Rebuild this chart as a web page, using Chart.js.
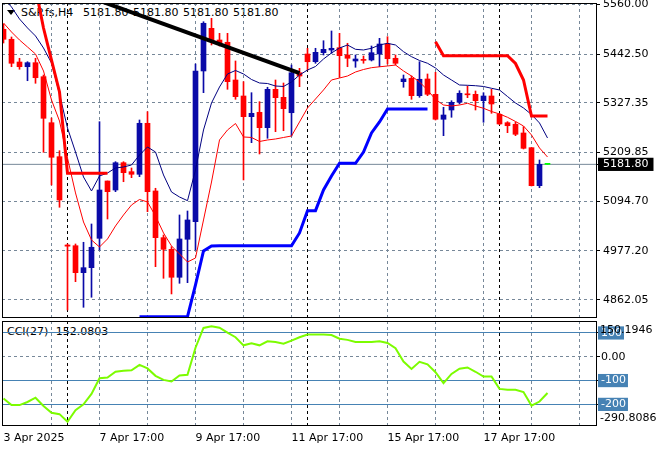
<!DOCTYPE html>
<html>
<head>
<meta charset="utf-8">
<script src="https://cdn.jsdelivr.net/npm/chart.js@4.4.1/dist/chart.umd.min.js"></script>
<style>
  body { margin: 0; background: #fff; }
  #wrap { position: relative; width: 660px; height: 450px; font-family: "DejaVu Sans"; font-size: 11px; color: #000; }
  canvas { position: absolute; left: 0; z-index: 1; }
  #main { top: 0; }
  #cci { top: 320px; }
  .t { position: absolute; white-space: pre; line-height: 13px; z-index: 0; }
  .front { z-index: 2; }
  #tri { position: absolute; left: 7px; top: 10px; width: 0; height: 0; border-left: 4px solid transparent; border-right: 4px solid transparent; border-top: 5px solid #000; }
</style>
</head>
<body>
<div id="wrap">
  <div id="tri"></div>
  <div class="t" style="left:21px;top:6px;">S&amp;P.fs,H4</div>
  <div class="t" style="left:83px;top:6px;word-spacing:1px;">5181.80 5181.80 5181.80 5181.80</div>
  <div class="t" style="left:7px;top:325px;">CCI(27) -152.0803</div>
  <canvas id="main" width="660" height="320"></canvas>
  <canvas id="cci" width="660" height="130"></canvas>
  <div class="t front" style="left:600px;top:323px;">150.1946</div>
  <div class="t front" style="left:600px;top:411px;">-290.8086</div>
</div>
<script>
// H4 bars, index 0 = first visible bar
var openP = [5500.9,5477.3,5423.6,5412.5,5422.0,5388.9,5280.2,5199.9,4991.3,4989.6,
  4925.9,4937.7,5007.1,5142.5,5121.2,5185.7,5164.5,5158.3,5278.8,5118.9,
  5008.6,4981.1,4915.0,5004.8,5046.4,5402.4,5503.2,5475.6,5470.2,5381.1,
  5343.3,5294.4,5304.8,5268.4,5359.1,5340.2,5303.8,5398.3,5442.5,5424.3,
  5445.6,5451.9,5457.4,5440.2,5426.0,5428.8,5428.3,5442.5,5466.1,5432.4,
  5377.1,5385.1,5344.0,5383.5,5347.3,5288.3,5310.2,5328.4,5347.5,5347.3,
  5332.2,5343.3,5300.1,5280.2,5276.5,5255.9,5221.2,5131.4,5181.8];
var highP = [5513.4,5482.7,5432.4,5424.3,5432.4,5392.9,5291.3,5214.1,4993.7,4993.7,
  4997.7,5040.9,5282.6,5142.5,5188.1,5188.1,5173.2,5286.6,5306.2,5125.3,
  5014.9,4987.3,5062.2,5071.6,5418.9,5518.8,5526.9,5491.4,5491.4,5426.0,
  5377.1,5351.1,5329.9,5363.9,5381.1,5374.0,5416.5,5408.7,5456.0,5456.0,
  5473.9,5496.9,5491.4,5467.8,5440.2,5437.8,5461.4,5479.6,5483.4,5440.2,
  5392.9,5390.5,5424.3,5395.3,5399.3,5316.6,5332.2,5355.8,5366.9,5355.1,
  5351.1,5359.1,5302.4,5282.6,5281.9,5270.8,5221.2,5192.1,5181.8];
var lowP = [5468.5,5412.5,5406.4,5379.4,5373.3,5210.3,5133.1,5080.4,4837.8,4904.6,
  4844.1,4867.8,4979.5,5052.7,5117.2,5140.8,5150.3,5152.7,5070.0,4940.0,
  4912.6,4875.6,4900.8,4902.3,4979.5,5351.1,5463.8,5461.4,5359.1,5335.5,
  5144.9,5233.0,5206.3,5243.4,5259.0,5261.3,5248.8,5365.3,5404.7,5420.6,
  5440.2,5444.2,5387.5,5412.5,5411.1,5420.6,5426.0,5412.5,5418.9,5416.5,
  5363.9,5335.5,5340.2,5344.0,5286.6,5249.5,5293.0,5324.4,5339.3,5310.2,
  5281.2,5302.4,5275.5,5256.6,5249.5,5218.1,5130.7,5126.7,5181.8];
var closeP = [5477.3,5420.6,5412.5,5422.0,5386.5,5290.6,5198.5,5097.6,4988.5,4925.9,
  4937.7,4985.9,5121.2,5117.2,5185.7,5162.1,5158.3,5278.8,5117.2,5008.6,
  4981.1,4915.0,5005.5,5050.4,5402.4,5515.1,5471.6,5469.2,5377.1,5341.7,
  5294.4,5302.4,5268.4,5359.1,5339.3,5313.3,5398.3,5390.5,5424.3,5446.5,
  5453.6,5456.0,5438.5,5432.4,5430.7,5427.4,5445.6,5466.1,5431.4,5420.6,
  5383.5,5344.0,5382.8,5347.3,5288.3,5298.4,5328.4,5349.7,5346.1,5332.2,
  5343.3,5324.4,5277.2,5273.1,5252.8,5219.7,5131.4,5181.8,5181.8];

// indicator lines
var upperLine = [5574.8,5553.6,5525.2,5504.0,5485.1,5456.7,5421.3,5348.0,5267.7,5211.0,
  5151.9,5118.9,5154.3,5161.4,5173.2,5175.6,5180.3,5203.9,5222.8,5211.0,
  5156.7,5116.5,5104.7,5096.0,5168.5,5263.0,5326.8,5364.6,5395.3,5403.6,
  5395.3,5382.3,5374.0,5372.8,5366.9,5365.8,5376.4,5392.9,5404.7,5413.0,
  5430.7,5444.9,5456.7,5463.8,5453.6,5452.0,5456.0,5463.8,5467.8,5463.8,
  5448.0,5436.2,5427.2,5420.6,5409.5,5392.9,5381.1,5369.3,5368.6,5367.6,
  5365.8,5361.5,5357.5,5342.1,5326.8,5315.0,5299.6,5279.5,5244.1];
var lowerLine = [5515.8,5494.5,5475.6,5459.1,5442.5,5402.4,5333.9,5284.2,5196.8,5114.2,
  5045.6,5003.1,4986.6,5005.5,5036.2,5062.2,5085.8,5098.8,5092.9,5059.8,
  5019.7,4989.0,4970.1,4951.1,4960.6,5050.4,5140.1,5239.4,5263.0,5278.3,
  5246.5,5245.3,5235.8,5239.4,5241.7,5245.3,5248.8,5281.9,5315.0,5336.2,
  5357.5,5381.1,5385.8,5390.5,5400.0,5405.9,5410.2,5412.3,5414.2,5416.5,
  5402.4,5390.5,5376.4,5357.5,5335.0,5322.0,5319.7,5322.0,5326.1,5319.7,
  5314.3,5306.7,5300.8,5293.0,5283.1,5272.4,5251.2,5220.5,5199.2];
var stopUp = [null,null,null,null,5598.4,5503.9,5428.3,5352.8,5160.7,5160.7,
  5160.7,5160.7,5160.7,5160.7,null,null,null,null,null,null,
  null,null,null,null,null,null,null,null,null,null,
  null,null,null,null,null,null,null,null,null,null,
  null,null,null,null,null,null,null,null,null,null,
  null,null,null,null,5471.6,5438.5,5438.5,5438.5,5438.5,5438.5,
  5438.5,5438.5,5438.5,5438.5,5420.1,5381.1,5296.1,5296.1,5296.1];
var stopDown = [null,null,null,null,null,null,null,null,null,null,
  null,null,null,null,null,null,null,4821.9,4821.9,4821.9,
  4821.9,4821.9,4821.9,4821.9,4896.8,4977.1,4988.9,4989.4,4989.4,4989.4,
  4989.4,4989.4,4989.4,4989.4,4989.4,4989.4,4989.4,5019.7,5072.4,5072.4,
  5121.2,5154.3,5184.3,5184.3,5184.3,5211.0,5255.9,5281.9,5312.6,5312.6,
  5312.6,5312.6,5312.6,5312.6,null,null,null,null,null,null,
  null,null,null,null,null,null,null,null,null];
var cciValues = [-175,-203,-203,-190,-172,-207,-235,-241,-273,-224,
  -200,-156,-90,-87,-63,-59,-57,-34,-49,-80,
  -97,-104,-79,-76,38,121,128,122,101,82,
  48,57,48,65,62,55,68,82,93,93,
  93,91,76,71,62,62,62,65,58,36,
  -20,-51,-21,-32,-65,-111,-72,-50,-45,-63,
  -83,-83,-135,-139,-139,-148,-205,-188,-152.08];

var trendBars = [12, 37];
var trendPrices = [5568.4, 5397.4];
var lastPrice = 5181.8;

var priceTicks = [4862.05, 4977.20, 5094.70, 5209.85, 5327.35, 5442.50, 5560.00];
var cciLevels = [-200, -100, 100];
var cciTicks = [-200, -100, 0, 100];
var gridBars = [0, 6, 12, 18, 24, 30, 36, 42, 48, 54, 60, 66, 72];
var sepBars = [8, 38, 62];
var labelBars = [0, 12, 24, 36, 48, 60];
var labelTexts = ['3 Apr 2025', '7 Apr 17:00', '9 Apr 17:00', '11 Apr 17:00', '15 Apr 17:00', '17 Apr 17:00'];

var bullColor = '#0a0aa8', bearColor = '#ff0000', dojiColor = '#00ff00';
var gridGrey = '#778899', levelBlue = '#4682b4';
var xMin = -0.1875, xMax = 74.0625;

Chart.defaults.font.family = 'DejaVu Sans';
Chart.defaults.font.size = 11;
Chart.defaults.color = '#000';

function pts(arr) {
  var out = [];
  for (var i = 0; i < arr.length; i++) out.push({x: i, y: arr[i]});
  return out;
}

var wicks = [], bodies = [], candleColors = [];
for (var i = 0; i < openP.length; i++) {
  wicks.push({x: i, y: [lowP[i], highP[i]]});
  bodies.push({x: i, y: [openP[i], closeP[i]]});
  if (closeP[i] > openP[i]) candleColors.push(bullColor);
  else if (closeP[i] < openP[i]) candleColors.push(bearColor);
  else candleColors.push(dojiColor);
}

var xTicks = gridBars.concat(sepBars).sort(function(a, b) { return a - b; });
function xGridColor(c) {
  if (!c.tick) return gridGrey;
  if (sepBars.indexOf(c.tick.value) >= 0) return '#000';
  if (c.tick.value === 0) return 'rgba(0,0,0,0)';
  return gridGrey;
}

var framePlugin = {
  id: 'frame',
  afterDatasetsDraw: function(chart) {
    var a = chart.chartArea, ctx = chart.ctx;
    ctx.save();
    ctx.strokeStyle = '#000';
    ctx.lineWidth = 1;
    ctx.strokeRect(a.left + 0.5, a.top + 0.5, a.right - a.left, a.bottom - a.top - 1);
    ctx.restore();
  }
};

function lineSet(label, arr, color, width, order) {
  return {type: 'line', label: label, data: pts(arr), borderColor: color, borderWidth: width,
    pointRadius: 0, tension: 0, spanGaps: false, clip: 0, order: order};
}

var mainChart = new Chart(document.getElementById('main'), {
  type: 'bar',
  data: {
    datasets: [
      {type: 'line', label: 'trend', data: [{x: trendBars[0], y: trendPrices[0]}, {x: trendBars[1], y: trendPrices[1]}],
        borderColor: '#000', borderWidth: 4, pointRadius: 0, clip: 0, order: 0},
      lineSet('stop up', stopUp, '#ff0000', 3, 1),
      lineSet('stop down', stopDown, '#0000ff', 3, 1),
      lineSet('upper', upperLine, '#000080', 1, 2),
      lineSet('lower', lowerLine, '#ff0000', 1, 2),
      {type: 'bar', label: 'bodies', data: bodies, backgroundColor: candleColors, barThickness: 5,
        grouped: false, minBarLength: 1, borderWidth: 0, clip: 0, order: 3},
      {type: 'bar', label: 'wicks', data: wicks, backgroundColor: candleColors, barThickness: 1,
        grouped: false, borderWidth: 0, clip: 0, order: 4},
      {type: 'line', label: 'last', data: [{x: -1, y: lastPrice}, {x: 75, y: lastPrice}],
        borderColor: gridGrey, borderWidth: 1, pointRadius: 0, clip: 0, order: 5}
    ]
  },
  options: {
    responsive: false,
    animation: false,
    devicePixelRatio: 1,
    layout: {padding: {left: 2, top: 3, right: 0, bottom: 2}},
    plugins: {legend: {display: false}, tooltip: {enabled: false}},
    scales: {
      x: {
        type: 'linear', min: xMin, max: xMax, offset: false,
        afterBuildTicks: function(s) { s.ticks = xTicks.map(function(v) { return {value: v}; }); },
        afterFit: function(s) { s.height = 0; s.paddingLeft = 0; s.paddingRight = 0; },
        ticks: {display: false},
        grid: {color: xGridColor, drawTicks: false, offset: false},
        border: {display: false, dash: [3, 3]}
      },
      y: {
        position: 'right', min: 4818.8, max: 5563.0,
        afterBuildTicks: function(s) {
          s.ticks = priceTicks.concat([lastPrice]).sort(function(a, b) { return a - b; })
            .map(function(v) { return {value: v}; });
        },
        afterFit: function(s) { s.width = 64; s.paddingTop = 0; s.paddingBottom = 0; },
        ticks: {
          padding: 3,
          callback: function(v) { return Number(v).toFixed(2); },
          color: function(c) { return c.tick && c.tick.value === lastPrice ? '#fff' : '#000'; },
          showLabelBackdrop: function(c) { return !!(c.tick && c.tick.value === lastPrice); },
          backdropColor: '#000',
          backdropPadding: {top: 0, bottom: 0, left: 5, right: 5}
        },
        grid: {
          color: function(c) { return c.tick && c.tick.value === lastPrice ? 'rgba(0,0,0,0)' : gridGrey; },
          tickLength: 4, tickColor: '#000'
        },
        border: {display: false, dash: [3, 3]}
      }
    }
  },
  plugins: [framePlugin]
});

var cciChart = new Chart(document.getElementById('cci'), {
  type: 'line',
  data: {
    datasets: [{label: 'CCI(27)', data: pts(cciValues), borderColor: '#7cfc00', borderWidth: 2,
      pointRadius: 0, tension: 0, clip: 0}]
  },
  options: {
    responsive: false,
    animation: false,
    devicePixelRatio: 1,
    layout: {padding: {left: 2, top: 1, right: 0, bottom: 0}},
    plugins: {legend: {display: false}, tooltip: {enabled: false}},
    scales: {
      x: {
        type: 'linear', min: xMin, max: xMax, offset: false,
        afterBuildTicks: function(s) { s.ticks = xTicks.map(function(v) { return {value: v}; }); },
        afterFit: function(s) { s.height = 24; s.paddingLeft = 0; s.paddingRight = 0; },
        ticks: {
          autoSkip: false, maxRotation: 0, minRotation: 0, align: 'start', padding: 6,
          callback: function(v) { var k = labelBars.indexOf(v); return k < 0 ? '' : labelTexts[k]; }
        },
        grid: {color: xGridColor, drawTicks: false, offset: false},
        border: {display: false, dash: [3, 3]}
      },
      y: {
        position: 'right', min: -290.8086, max: 150.1946,
        afterBuildTicks: function(s) { s.ticks = cciTicks.map(function(v) { return {value: v}; }); },
        afterFit: function(s) { s.width = 64; s.paddingTop = 0; s.paddingBottom = 0; },
        ticks: {
          padding: 1,
          callback: function(v) { return v === 0 ? '0.00' : String(v); },
          color: function(c) { return c.tick && cciLevels.indexOf(c.tick.value) >= 0 ? '#fff' : '#000'; },
          showLabelBackdrop: function(c) { return !!(c.tick && cciLevels.indexOf(c.tick.value) >= 0); },
          backdropColor: levelBlue,
          backdropPadding: {top: 0, bottom: 0, left: 3, right: 2}
        },
        grid: {
          color: function(c) { return c.tick && cciLevels.indexOf(c.tick.value) >= 0 ? levelBlue : gridGrey; },
          tickLength: 4, tickColor: '#000'
        },
        border: {
          display: false,
          dash: function(c) { return c.tick && c.tick.value === 0 ? [3, 3] : []; }
        }
      }
    }
  },
  plugins: [framePlugin]
});
</script>
</body>
</html>
